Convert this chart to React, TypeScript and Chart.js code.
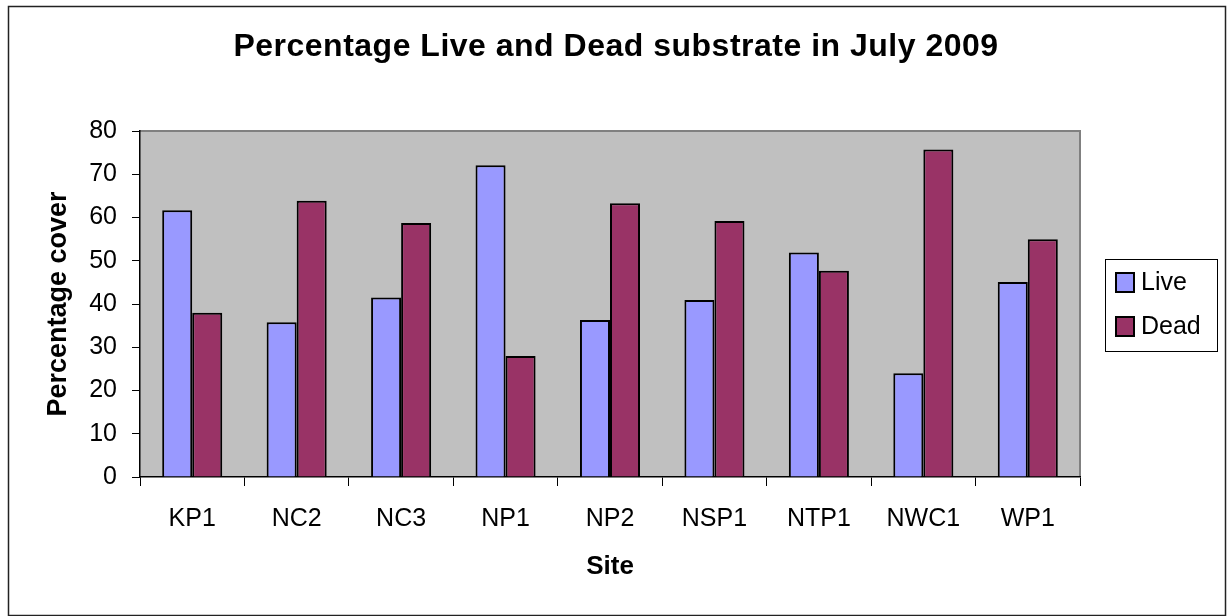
import React, { useEffect, useRef } from "react";
import { Chart, registerables } from "chart.js";

Chart.register(...registerables);

const sites = ["KP1", "NC2", "NC3", "NP1", "NP2", "NSP1", "NTP1", "NWC1", "WP1"];
const liveValues = [61.7, 35.8, 41.5, 72.1, 36.3, 40.9, 51.9, 24.0, 45.1];
const deadValues = [38.0, 63.9, 58.7, 28.0, 63.3, 59.2, 47.7, 75.7, 55.0];
const seriesNames = ["Live", "Dead"];
const seriesColors = ["#9999FF", "#993366"];
const chartTitle = "Percentage Live and Dead substrate in July 2009";
const xTitle = "Site";
const yTitle = "Percentage cover";

const FONT = "'Liberation Sans', Arial, sans-serif";

const framePlugin = {
  id: "frame",
  beforeDraw(chart: any) {
    const { ctx, width, height, chartArea } = chart;
    ctx.save();
    ctx.fillStyle = "#ffffff";
    ctx.fillRect(0, 0, width, height);
    ctx.strokeStyle = "#222222";
    ctx.lineWidth = 1.5;
    ctx.strokeRect(8.5, 6.5, 1217, 609);
    ctx.fillStyle = "#C0C0C0";
    ctx.fillRect(chartArea.left, chartArea.top, chartArea.right - chartArea.left, chartArea.bottom - chartArea.top);
    ctx.strokeStyle = "#808080";
    ctx.lineWidth = 2;
    ctx.beginPath();
    ctx.moveTo(chartArea.left, chartArea.top);
    ctx.lineTo(chartArea.right, chartArea.top);
    ctx.lineTo(chartArea.right, chartArea.bottom);
    ctx.stroke();
    ctx.restore();
  },
  afterDraw(chart: any) {
    const { ctx } = chart;
    ctx.save();
    ctx.fillStyle = "#000";
    ctx.font = `bold 32px ${FONT}`;
    (ctx as any).letterSpacing = "0.5px";
    ctx.textAlign = "center";
    ctx.textBaseline = "alphabetic";
    ctx.fillText(chartTitle, 616, 56);
    (ctx as any).letterSpacing = "0px";
    const bx = 1105, by = 259, bw = 112, bh = 92;
    ctx.fillStyle = "#fff";
    ctx.fillRect(bx, by, bw, bh);
    ctx.strokeStyle = "#000";
    ctx.lineWidth = 1;
    ctx.strokeRect(bx + 0.5, by + 0.5, bw, bh);
    chart.data.datasets.forEach((ds: any, i: number) => {
      const cy = 283 + i * 44;
      ctx.fillStyle = ds.backgroundColor;
      ctx.fillRect(1116, cy - 10, 18, 19);
      ctx.strokeStyle = "#000";
      ctx.lineWidth = 2;
      ctx.strokeRect(1116, cy - 10, 18, 19);
      ctx.fillStyle = "#000";
      ctx.font = `25px ${FONT}`;
      ctx.textAlign = "left";
      ctx.textBaseline = "middle";
      ctx.fillText(ds.label, 1141, cy);
    });
    ctx.restore();
  },
};

export default function App() {
  const ref = useRef<HTMLCanvasElement | null>(null);
  useEffect(() => {
    document.body.style.margin = "0";
    if (!ref.current) return;
    const chart = new Chart(ref.current, {
      type: "bar",
      data: {
        labels: sites,
        datasets: [
          { label: seriesNames[0], data: liveValues, backgroundColor: seriesColors[0], borderColor: "#000", borderWidth: 2 },
          { label: seriesNames[1], data: deadValues, backgroundColor: seriesColors[1], borderColor: "#000", borderWidth: 2 },
        ],
      },
      options: {
        responsive: false,
        animation: false,
        layout: { padding: { left: 0, top: 131, right: 152, bottom: 0 } },
        datasets: { bar: { categoryPercentage: 0.575, barPercentage: 1 } },
        plugins: { legend: { display: false }, title: { display: false }, tooltip: { enabled: false } },
        scales: {
          x: {
            type: "category",
            offset: true,
            grid: { offset: true, drawOnChartArea: false, drawTicks: true, tickLength: 9, color: "#000", lineWidth: 1 },
            border: { display: true, color: "#000", width: 1.5 },
            ticks: { color: "#000", font: { family: FONT, size: 25 }, padding: 18, maxRotation: 0, autoSkip: false },
            title: { display: true, text: xTitle, color: "#000", font: { family: FONT, size: 26, weight: "bold" }, padding: { top: 0, bottom: 34 } },
            afterFit(scale: any) { scale.height = 139; },
          },
          y: {
            min: 0,
            max: 80,
            ticks: { stepSize: 10, color: "#000", font: { family: FONT, size: 25 }, padding: 15 },
            grid: { drawOnChartArea: false, drawTicks: true, tickLength: 8, color: "#000", lineWidth: 1 },
            border: { display: true, color: "#000", width: 1.5 },
            title: { display: true, text: yTitle, color: "#000", font: { family: FONT, size: 27, weight: "bold" }, padding: { top: 42, bottom: 0 } },
            afterFit(scale: any) { scale.width = 140; },
          },
        },
      },
      plugins: [framePlugin],
    } as any);
    return () => chart.destroy();
  }, []);
  return (
    <div style={{ width: 1232, height: 616 }}>
      <canvas ref={ref} width={1232} height={616} style={{ display: "block" }} />
    </div>
  );
}
